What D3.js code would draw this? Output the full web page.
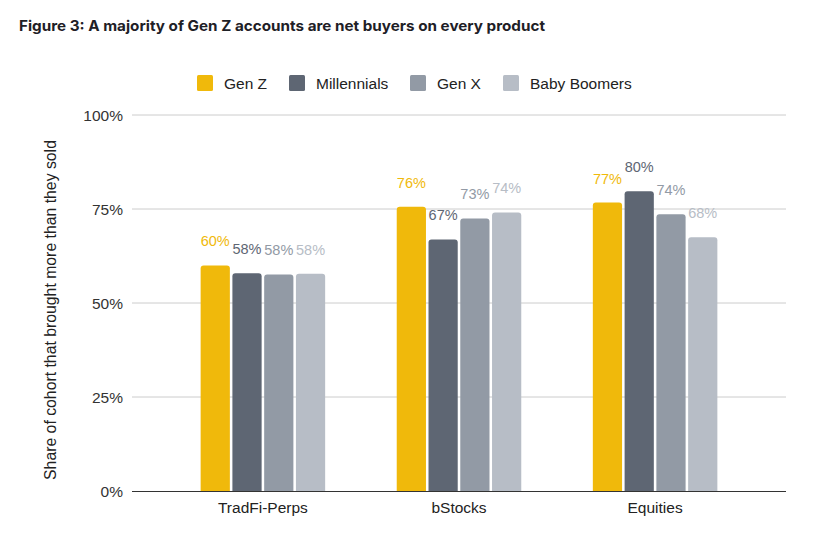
<!DOCTYPE html>
<html>
<head>
<meta charset="utf-8">
<script src="https://cdn.jsdelivr.net/npm/d3@7/dist/d3.min.js"></script>
<style>
  html, body { margin: 0; padding: 0; background: #fff; }
  svg { display: block; }
</style>
</head>
<body>
<svg id="chart" width="823" height="538"></svg>
<script>
const title = "Figure 3: A majority of Gen Z accounts are net buyers on every product";
const yAxisTitle = "Share of cohort that brought more than they sold";
const categories = ["TradFi-Perps", "bStocks", "Equities"];
const seriesNames = ["Gen Z", "Millennials", "Gen X", "Baby Boomers"];
const seriesColors = ["#F0B90B", "#5E6673", "#929AA5", "#B7BDC6"];
const genZ = [60.0, 75.6, 76.7];
const millennials = [57.9, 66.9, 79.7];
const genX = [57.6, 72.5, 73.6];
const babyBoomers = [57.8, 74.1, 67.5];
const dataLabels = [
  ["60%", "76%", "77%"],
  ["58%", "67%", "80%"],
  ["58%", "73%", "74%"],
  ["58%", "74%", "68%"]
];
const yTicks = [0, 25, 50, 75, 100];
const yTickLabels = ["0%", "25%", "50%", "75%", "100%"];

const seriesValues = [genZ, millennials, genX, babyBoomers];
const font = "'Liberation Sans', Arial, sans-serif";

const svg = d3.select("#chart");
const plotLeft = 132, plotRight = 786, plotTop = 115, plotBottom = 491;

const y = d3.scaleLinear().domain([0, 100]).range([plotBottom, plotTop]);
const x0 = d3.scaleBand().domain(categories).range([plotLeft, plotRight]).paddingInner(0.365).paddingOuter(0.35);
const x1 = d3.scaleBand().domain(seriesNames).range([0, x0.bandwidth()]).paddingInner(0.08);

// Title
svg.append("text")
  .attr("x", 19).attr("y", 31)
  .attr("font-family", "Inter, Roboto, sans-serif")
  .attr("font-weight", 700).attr("font-size", 14.5)
  .attr("fill", "#1E2026")
  .attr("textLength", 526).attr("lengthAdjust", "spacingAndGlyphs")
  .text(title);

// Legend
const legendX = [197, 289, 410, 503];
const legend = svg.append("g");
seriesNames.forEach((name, i) => {
  const g = legend.append("g").attr("transform", `translate(${legendX[i]},75)`);
  g.append("rect").attr("width", 16).attr("height", 16).attr("rx", 1.5).attr("fill", seriesColors[i]);
  g.append("text").attr("x", 27).attr("y", 13.5)
    .attr("font-family", font).attr("font-size", 15.5).attr("fill", "#222")
    .text(name);
});

// Grid lines and y ticks
const yAxis = svg.append("g");
yTicks.forEach((t, i) => {
  if (t > 0) {
    yAxis.append("line")
      .attr("x1", plotLeft).attr("x2", plotRight)
      .attr("y1", y(t)).attr("y2", y(t))
      .attr("stroke", "#CCCCCC").attr("stroke-width", 1);
  }
  yAxis.append("text")
    .attr("x", 123).attr("y", y(t) + 5.5)
    .attr("text-anchor", "end")
    .attr("font-family", font).attr("font-size", 15.5).attr("fill", "#333")
    .text(yTickLabels[i]);
});

// Y axis title
svg.append("text")
  .attr("transform", `translate(56,310) rotate(-90)`)
  .attr("text-anchor", "middle")
  .attr("font-family", font).attr("font-size", 15.8).attr("fill", "#222")
  .text(yAxisTitle);

// Bars
const r = 3;
function barPath(x, w, yTop, yBot) {
  return `M${x},${yBot}V${yTop + r}Q${x},${yTop} ${x + r},${yTop}H${x + w - r}Q${x + w},${yTop} ${x + w},${yTop + r}V${yBot}Z`;
}
const groups = svg.append("g").selectAll("g")
  .data(categories)
  .join("g")
  .attr("transform", d => `translate(${x0(d)},0)`);

seriesNames.forEach((name, si) => {
  groups.append("path")
    .attr("d", (c, ci) => barPath(x1(name), x1.bandwidth(), y(seriesValues[si][ci]), plotBottom))
    .attr("fill", seriesColors[si]);
  groups.append("text")
    .attr("x", x1(name) + x1.bandwidth() / 2)
    .attr("y", (c, ci) => y(seriesValues[si][ci]) - 19)
    .attr("text-anchor", "middle")
    .attr("font-family", font).attr("font-size", 14.5).attr("font-weight", 500)
    .attr("fill", seriesColors[si])
    .text((c, ci) => dataLabels[si][ci]);
});

// Baseline
svg.append("line")
  .attr("x1", plotLeft).attr("x2", plotRight)
  .attr("y1", plotBottom + 0.5).attr("y2", plotBottom + 0.5)
  .attr("stroke", "#333").attr("stroke-width", 1.2);

// X labels
svg.append("g").selectAll("text")
  .data(categories)
  .join("text")
  .attr("x", d => x0(d) + x0.bandwidth() / 2)
  .attr("y", 512.5)
  .attr("text-anchor", "middle")
  .attr("font-family", font).attr("font-size", 15.5).attr("fill", "#222")
  .text(d => d);
</script>
</body>
</html>
